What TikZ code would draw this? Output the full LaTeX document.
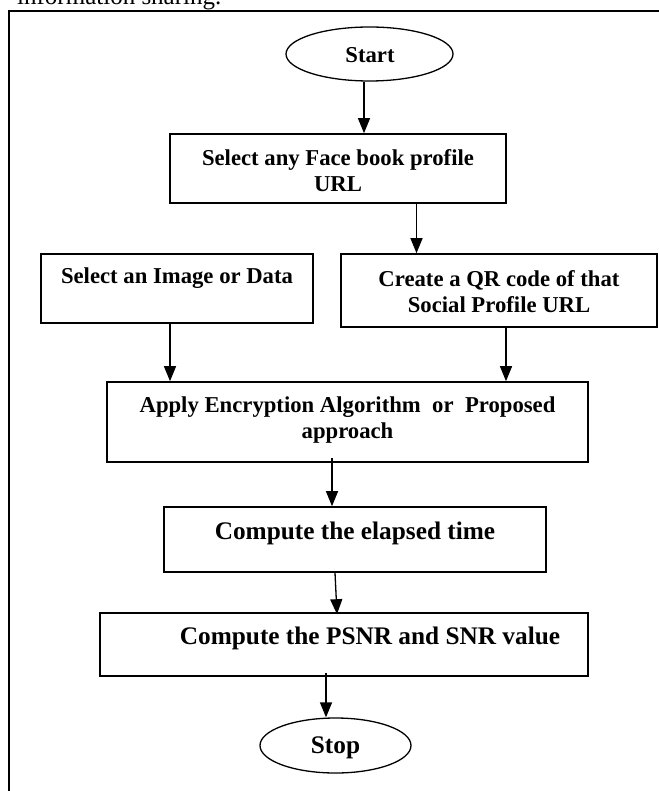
\documentclass[tikz,border=0pt]{standalone}
\usepackage{fontspec}
\setmainfont{Liberation Serif}
\usetikzlibrary{arrows.meta,shapes.geometric}
\begin{document}
\begin{tikzpicture}[x={(1pt,0)},y={(0,-1pt)},
  box/.style={draw,line width=1.6pt,rectangle,inner sep=0pt},
  oval/.style={draw,line width=1.3pt,ellipse,inner sep=0pt},
  lbl/.style={font=\bfseries\fontsize{22.7}{26}\selectfont,align=center,inner sep=0pt},
  lblb/.style={font=\bfseries\fontsize{25.3}{28}\selectfont,align=center,inner sep=0pt},
  arr/.style={line width=1.3pt,-{Triangle[length=15pt,width=12pt]}}]
\useasboundingbox (0,0) rectangle (658,791);
% caption remnant
\node[anchor=base west,inner sep=0pt,font=\fontsize{25}{28}\selectfont] (cap) at (17,5) {information sharing.};
% frame
\draw[line width=1.6pt] (9,800) -- (9,11) -- (670,11);
% shapes
\node[oval,minimum width=167pt,minimum height=54pt] (start) at (369.5,54) {};
\node[box,minimum width=336pt,minimum height=69pt] (b1) at (338,168.5) {};
\node[box,minimum width=272pt,minimum height=69pt] (bl) at (177,288.5) {};
\node[box,minimum width=316pt,minimum height=73pt] (br) at (499,290.5) {};
\node[box,minimum width=481pt,minimum height=80pt] (ba) at (347.5,422) {};
\node[box,minimum width=382pt,minimum height=65pt] (be) at (355,539.5) {};
\node[box,minimum width=488pt,minimum height=63pt] (bp) at (344,644.5) {};
\node[oval,minimum width=151pt,minimum height=55pt] (stop) at (335.5,745.5) {};
% texts
\node[lbl] (tstart) at (370,55) {Start};
\node[lbl] (t1) at (338,171) {Select any Face book profile\\URL};
\node[lbl] (tl) at (177,278) {Select an Image or Data};
\node[lbl] (tr) at (499,291.5) {Create a QR code of that\\Social Profile URL};
\node[lbl] (ta) at (347.5,420) {Apply Encryption Algorithm~~or~~Proposed\\approach};
\node[lblb] (te) at (355,533) {Compute the elapsed time};
\node[lblb] (tp) at (370,638) {Compute the PSNR and SNR value};
\node[lblb] (tstop) at (335.5,748) {Stop};
% connectors
\draw[arr] ([xshift=-5.5pt]start.south) -- ([xshift=-5.5pt]start.south |- b1.north);
\draw[arr] ([xshift=78.5pt]b1.south) -- ([xshift=78.5pt]b1.south |- br.north);
\draw[arr] ([xshift=-7pt]bl.south) -- ([xshift=-7pt]bl.south |- ba.north);
\draw[arr] ([xshift=7pt]br.south) -- ([xshift=7pt]br.south |- ba.north);
\draw[arr] ([xshift=-15.5pt,yshift=5pt]ba.south) -- ([xshift=-15.5pt]ba.south |- be.north);
\draw[arr] ([xshift=-20pt]be.south) -- ([xshift=-18pt,yshift=-2pt]be.south |- bp.north);
\draw[arr] ([xshift=-18pt,yshift=4pt]bp.south) -- ([xshift=-18pt]bp.south |- stop.north);
\end{tikzpicture}
\end{document}
